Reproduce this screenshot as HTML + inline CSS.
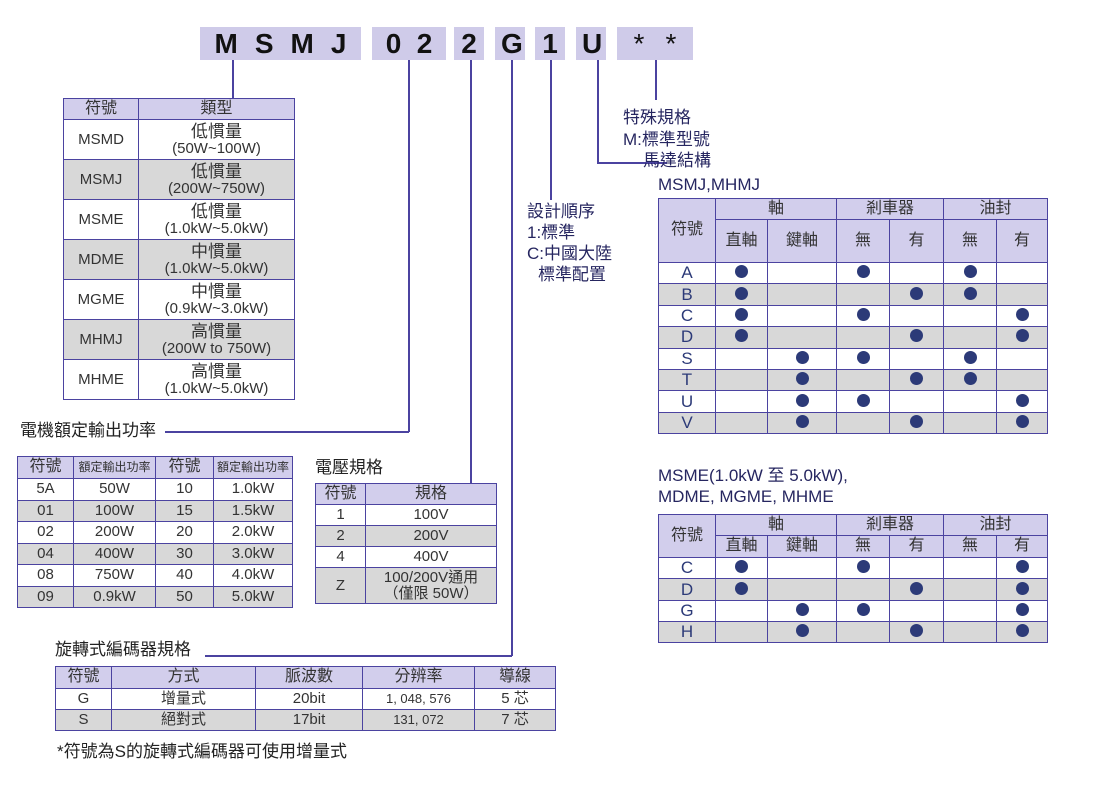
<!DOCTYPE html>
<html><head><meta charset="utf-8">
<style>
*{margin:0;padding:0;box-sizing:border-box}
body{width:1100px;height:788px;background:#fff;position:relative;overflow:hidden;font-family:"Liberation Sans","Noto Sans CJK TC",sans-serif;color:#222}
.box{position:absolute;top:27px;height:33px;background:#cfcbe9;font:bold 28px "Liberation Sans",sans-serif;color:#111;display:flex;align-items:center;justify-content:space-around;padding:0 6px}
.v{position:absolute;width:1.5px;background:#4b43a0}
.h{position:absolute;height:1.5px;background:#4b43a0}
table{position:absolute;border-collapse:collapse;table-layout:fixed;font-size:15px;color:#333}
td{border:1.5px solid #4b43a0;text-align:center;padding:0;line-height:1.05;overflow:hidden;white-space:nowrap}
.hd td,td.hd{background:#d2ceec;font-size:16px}
.g td{background:#d8d8d8}
.lbl{position:absolute;font-size:17px;color:#262660;white-space:nowrap;line-height:1.25}
.d{display:inline-block;width:13px;height:13px;border-radius:50%;background:#2c3a78}
.rt td{color:#2c3a78;font-size:17px}
.rt .hd td,.rt td.hd{color:#333;font-size:16px}
</style></head><body>

<div class="box" style="left:200px;width:161px"><span>M</span><span>S</span><span>M</span><span>J</span></div>
<div class="box" style="left:372px;width:74px"><span>0</span><span>2</span></div>
<div class="box" style="left:454px;width:30px"><span>2</span></div>
<div class="box" style="left:495px;width:30px"><span>G</span></div>
<div class="box" style="left:535px;width:30px"><span>1</span></div>
<div class="box" style="left:576px;width:30px"><span>U</span></div>
<div class="box" style="left:617px;width:76px;font-weight:normal"><span>*</span><span>*</span></div>

<div class="v" style="left:232px;top:60px;height:38px"></div>
<div class="v" style="left:408px;top:60px;height:372px"></div>
<div class="h" style="left:165px;top:431px;width:244px"></div>
<div class="v" style="left:470px;top:60px;height:424px"></div>
<div class="v" style="left:511px;top:60px;height:596px"></div>
<div class="h" style="left:205px;top:655px;width:307px"></div>
<div class="v" style="left:550px;top:60px;height:140px"></div>
<div class="v" style="left:597px;top:60px;height:104px"></div>
<div class="h" style="left:597px;top:162px;width:70px"></div>
<div class="v" style="left:655px;top:60px;height:40px"></div>

<table style="left:63px;top:98px;width:232px">
<colgroup><col style="width:75px"><col></colgroup>
<tr class="hd" style="height:21px"><td>符號</td><td>類型</td></tr>
<tr style="height:40px"><td>MSMD</td><td><span style="font-size:17px">低慣量</span><br>(50W~100W)</td></tr>
<tr class="g" style="height:40px"><td>MSMJ</td><td><span style="font-size:17px">低慣量</span><br>(200W~750W)</td></tr>
<tr style="height:40px"><td>MSME</td><td><span style="font-size:17px">低慣量</span><br>(1.0kW~5.0kW)</td></tr>
<tr class="g" style="height:40px"><td>MDME</td><td><span style="font-size:17px">中慣量</span><br>(1.0kW~5.0kW)</td></tr>
<tr style="height:40px"><td>MGME</td><td><span style="font-size:17px">中慣量</span><br>(0.9kW~3.0kW)</td></tr>
<tr class="g" style="height:40px"><td>MHMJ</td><td><span style="font-size:17px">高慣量</span><br>(200W to 750W)</td></tr>
<tr style="height:40px"><td>MHME</td><td><span style="font-size:17px">高慣量</span><br>(1.0kW~5.0kW)</td></tr>
</table>

<div class="lbl" style="left:20px;top:420px;color:#222">電機額定輸出功率</div>

<table style="left:17px;top:456px;width:276px">
<colgroup><col style="width:56px"><col style="width:82px"><col style="width:58px"><col></colgroup>
<tr class="hd" style="height:22px"><td>符號</td><td style="font-size:12px">額定輸出功率</td><td>符號</td><td style="font-size:12px">額定輸出功率</td></tr>
<tr style="height:21.5px"><td>5A</td><td>50W</td><td>10</td><td>1.0kW</td></tr>
<tr class="g" style="height:21.5px"><td>01</td><td>100W</td><td>15</td><td>1.5kW</td></tr>
<tr style="height:21.5px"><td>02</td><td>200W</td><td>20</td><td>2.0kW</td></tr>
<tr class="g" style="height:21.5px"><td>04</td><td>400W</td><td>30</td><td>3.0kW</td></tr>
<tr style="height:21.5px"><td>08</td><td>750W</td><td>40</td><td>4.0kW</td></tr>
<tr class="g" style="height:21.5px"><td>09</td><td>0.9kW</td><td>50</td><td>5.0kW</td></tr>
</table>

<div class="lbl" style="left:315px;top:457px;color:#222">電壓規格</div>
<table style="left:315px;top:483px;width:182px">
<colgroup><col style="width:50px"><col></colgroup>
<tr class="hd" style="height:21px"><td>符號</td><td>規格</td></tr>
<tr style="height:21px"><td>1</td><td>100V</td></tr>
<tr class="g" style="height:21px"><td>2</td><td>200V</td></tr>
<tr style="height:21px"><td>4</td><td>400V</td></tr>
<tr class="g" style="height:36px"><td>Z</td><td>100/200V通用<br>（僅限 50W）</td></tr>
</table>

<div class="lbl" style="left:55px;top:639px;color:#222">旋轉式編碼器規格</div>
<table style="left:55px;top:666px;width:501px">
<colgroup><col style="width:56px"><col style="width:144px"><col style="width:107px"><col style="width:112px"><col></colgroup>
<tr class="hd" style="height:22px"><td>符號</td><td>方式</td><td>脈波數</td><td>分辨率</td><td>導線</td></tr>
<tr style="height:21px"><td>G</td><td>增量式</td><td>20bit</td><td style="font-size:13px">1, 048, 576</td><td>5 芯</td></tr>
<tr class="g" style="height:21px"><td>S</td><td>絕對式</td><td>17bit</td><td style="font-size:13px">131, 072</td><td>7 芯</td></tr>
</table>
<div class="lbl" style="left:57px;top:741px;color:#222">*符號為S的旋轉式編碼器可使用增量式</div>

<div class="lbl" style="left:623px;top:107px">特殊規格</div>
<div class="lbl" style="left:623px;top:129px">M:標準型號</div>
<div class="lbl" style="left:643px;top:150px">馬達結構</div>
<div class="lbl" style="left:658px;top:174px">MSMJ,MHMJ</div>
<div class="lbl" style="left:527px;top:201px">設計順序</div>
<div class="lbl" style="left:527px;top:222px">1:標準</div>
<div class="lbl" style="left:527px;top:243px">C:中國大陸</div>
<div class="lbl" style="left:538px;top:264px">標準配置</div>
<div class="lbl" style="left:658px;top:465px">MSME(1.0kW 至 5.0kW),</div>
<div class="lbl" style="left:658px;top:486px">MDME, MGME, MHME</div>

<table class="rt" style="left:658px;top:198px;width:390px">
<colgroup><col style="width:57px"><col style="width:52px"><col style="width:69px"><col style="width:53px"><col style="width:54px"><col style="width:53px"><col></colgroup>
<tr class="hd" style="height:21px"><td rowspan="2">符號</td><td colspan="2">軸</td><td colspan="2">剎車器</td><td colspan="2">油封</td></tr>
<tr class="hd" style="height:43px"><td>直軸</td><td>鍵軸</td><td>無</td><td>有</td><td>無</td><td>有</td></tr>
<tr style="height:21.4px"><td>A</td><td><i class="d"></i></td><td></td><td><i class="d"></i></td><td></td><td><i class="d"></i></td><td></td></tr>
<tr class="g" style="height:21.4px"><td>B</td><td><i class="d"></i></td><td></td><td></td><td><i class="d"></i></td><td><i class="d"></i></td><td></td></tr>
<tr style="height:21.4px"><td>C</td><td><i class="d"></i></td><td></td><td><i class="d"></i></td><td></td><td></td><td><i class="d"></i></td></tr>
<tr class="g" style="height:21.4px"><td>D</td><td><i class="d"></i></td><td></td><td></td><td><i class="d"></i></td><td></td><td><i class="d"></i></td></tr>
<tr style="height:21.4px"><td>S</td><td></td><td><i class="d"></i></td><td><i class="d"></i></td><td></td><td><i class="d"></i></td><td></td></tr>
<tr class="g" style="height:21.4px"><td>T</td><td></td><td><i class="d"></i></td><td></td><td><i class="d"></i></td><td><i class="d"></i></td><td></td></tr>
<tr style="height:21.4px"><td>U</td><td></td><td><i class="d"></i></td><td><i class="d"></i></td><td></td><td></td><td><i class="d"></i></td></tr>
<tr class="g" style="height:21.4px"><td>V</td><td></td><td><i class="d"></i></td><td></td><td><i class="d"></i></td><td></td><td><i class="d"></i></td></tr>
</table>

<table class="rt" style="left:658px;top:514px;width:390px">
<colgroup><col style="width:57px"><col style="width:52px"><col style="width:69px"><col style="width:53px"><col style="width:54px"><col style="width:53px"><col></colgroup>
<tr class="hd" style="height:21px"><td rowspan="2">符號</td><td colspan="2">軸</td><td colspan="2">剎車器</td><td colspan="2">油封</td></tr>
<tr class="hd" style="height:22px"><td>直軸</td><td>鍵軸</td><td>無</td><td>有</td><td>無</td><td>有</td></tr>
<tr style="height:21.3px"><td>C</td><td><i class="d"></i></td><td></td><td><i class="d"></i></td><td></td><td></td><td><i class="d"></i></td></tr>
<tr class="g" style="height:21.3px"><td>D</td><td><i class="d"></i></td><td></td><td></td><td><i class="d"></i></td><td></td><td><i class="d"></i></td></tr>
<tr style="height:21.3px"><td>G</td><td></td><td><i class="d"></i></td><td><i class="d"></i></td><td></td><td></td><td><i class="d"></i></td></tr>
<tr class="g" style="height:21.3px"><td>H</td><td></td><td><i class="d"></i></td><td></td><td><i class="d"></i></td><td></td><td><i class="d"></i></td></tr>
</table>
</body></html>
